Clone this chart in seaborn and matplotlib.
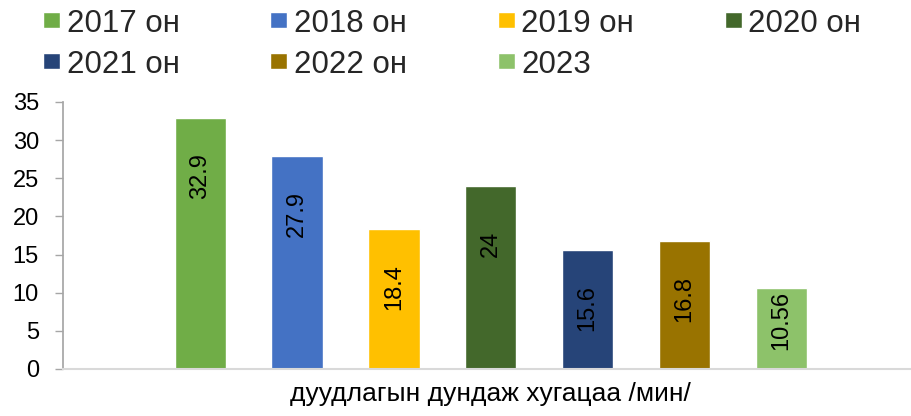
import matplotlib
matplotlib.use("Agg")
import matplotlib.pyplot as plt
import pandas as pd
import seaborn as sns
from matplotlib.legend_handler import HandlerPatch
from matplotlib.patches import Rectangle

# data
category = "дуудлагын дундаж хугацаа /мин/"
years = ["2017 он", "2018 он", "2019 он", "2020 он", "2021 он", "2022 он", "2023"]
values = [32.9, 27.9, 18.4, 24, 15.6, 16.8, 10.56]
value_labels = ["32.9", "27.9", "18.4", "24", "15.6", "16.8", "10.56"]
colors = ["#70AD47", "#4472C4", "#FFC000", "#43682B", "#264478", "#997300", "#8DC26A"]

sns.set_theme(style="white")
plt.rcParams["font.family"] = ["Liberation Sans", "DejaVu Sans"]

df = pd.DataFrame({"cat": [category] * len(years), "year": years, "value": values})

fig = plt.figure(figsize=(9.12, 4.16), dpi=100)
ax = fig.add_axes([0.069, 0.113, 0.929, 0.642])

sns.barplot(
    data=df, x="cat", y="value", hue="year", hue_order=years,
    palette=colors, saturation=1, width=0.8, gap=0.47, ax=ax,
)

# value labels rotated inside the bars, near the top
for container, lab, v in zip(ax.containers, value_labels, values):
    bar = container[0]
    xc = bar.get_x() + bar.get_width() / 2
    yc = v - 7.6 if v - 7.6 > 4.2 else v - 4.2
    ax.text(xc, yc, lab, rotation=90, ha="center", va="center",
            fontsize=17, color="black")

ax.set_ylim(0, 35)
ax.set_yticks(range(0, 36, 5))
ax.set_xlim(-0.505, 0.495)
ax.set_xticks([0])
ax.set_xticklabels([""])
ax.set_ylabel("")
ax.set_xlabel(category, fontsize=19, color="black", labelpad=6, x=0.505)

for side in ["top", "right"]:
    ax.spines[side].set_visible(False)
ax.spines["left"].set_color("#a6a6a6")
ax.spines["bottom"].set_color("#d9d9d9")
ax.spines["bottom"].set_linewidth(1.5)
ax.tick_params(axis="y", which="major", left=True, length=5.8, width=1.0,
               color="#a6a6a6", labelsize=17, pad=11.5, labelcolor="black")
ax.tick_params(axis="x", length=0)


def square_patch(legend, orig_handle, xdescent, ydescent, width, height, fontsize):
    # small square sitting a little above the text baseline
    return Rectangle((-xdescent, -ydescent + 1.6), width, 11.5)


handles, labels = ax.get_legend_handles_labels()
ax.get_legend().remove()
# matplotlib fills legend columns first; reorder so rows read left to right
order = [0, 4, 1, 5, 2, 6, 3]
fig.legend(
    [handles[i] for i in order], [labels[i] for i in order],
    ncol=4, loc="upper left", bbox_to_anchor=(43 / 912, 0.978),
    frameon=False, borderpad=0, borderaxespad=0,
    handlelength=0.54, handleheight=0.54, handletextpad=0.22,
    columnspacing=2.9, labelspacing=0.36,
    prop={"size": 22.5},
    handler_map={Rectangle: HandlerPatch(patch_func=square_patch)},
)

fig.savefig("out.png", dpi=100)
